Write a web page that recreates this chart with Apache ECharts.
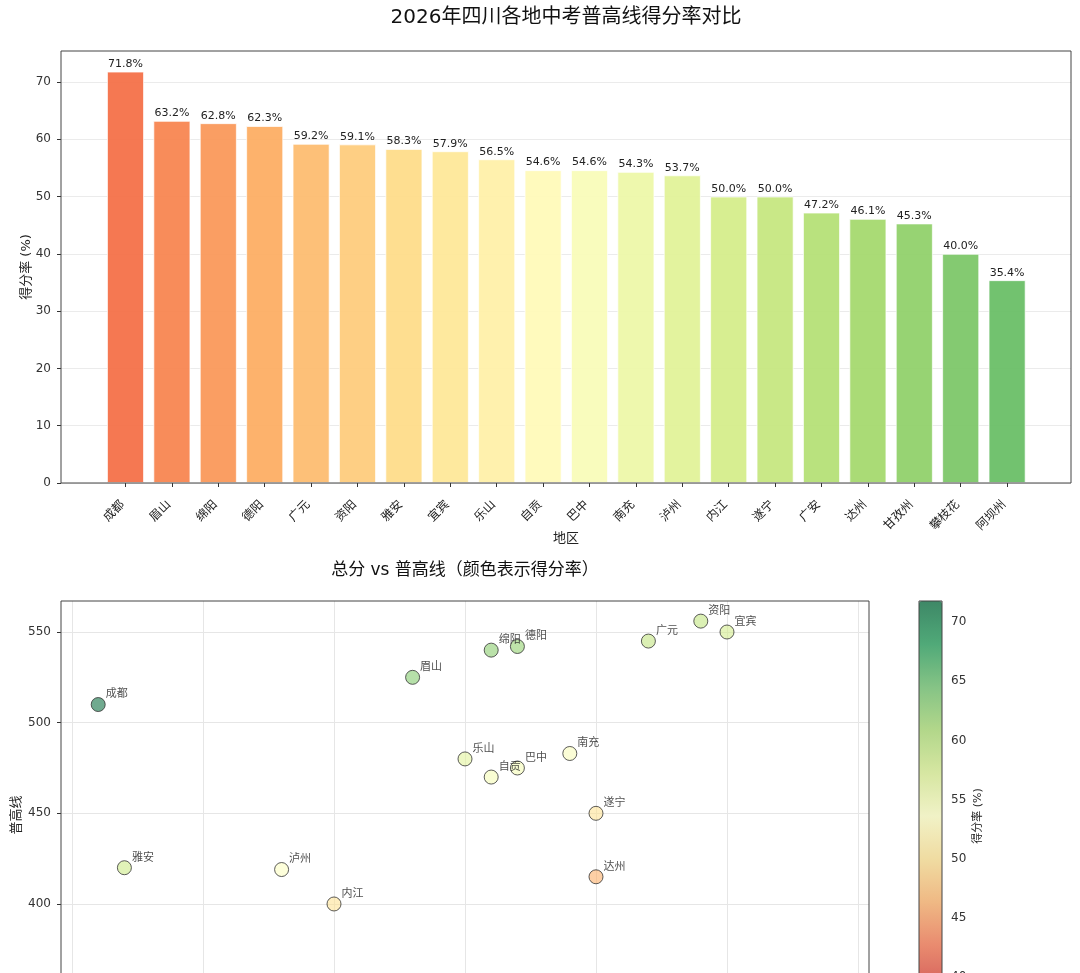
<!DOCTYPE html>
<html><head><meta charset="utf-8">
<script src="https://cdn.jsdelivr.net/npm/echarts@6.0.0/dist/echarts.min.js"></script>
<style>html,body{margin:0;padding:0;background:#fff}#c{width:1080px;height:973px}</style>
</head><body><div id="c"></div><script>
// ---- data ----
const regions = ['成都','眉山','绵阳','德阳','广元','资阳','雅安','宜宾','乐山','自贡','巴中','南充','泸州','内江','遂宁','广安','达州','甘孜州','攀枝花','阿坝州'];
const rates = [71.8,63.2,62.8,62.3,59.2,59.1,58.3,57.9,56.5,54.6,54.6,54.3,53.7,50.0,50.0,47.2,46.1,45.3,40.0,35.4];
const scatterNames = ['成都','眉山','绵阳','德阳','广元','资阳','宜宾','乐山','自贡','巴中','南充','遂宁','达州','雅安','泸州','内江'];
const totalScores = [710,830,860,870,920,940,950,850,860,870,890,900,900,720,780,800];
const cutoffLines = [510,525,540,542,545,556,550,480,470,475,483,450,415,420,419,400];
const barTicks = [0,10,20,30,40,50,60,70];
const scatterYTicks = [350,400,450,500,550];
const scatterXTicks = [700,750,800,850,900,950,1000];
const colorbarTicks = [40,45,50,55,60,65,70];

// ---- colormap (RdYlGn) ----
const RdYlGn = ['#a50026','#d73027','#f46d43','#fdae61','#fee08b','#ffffbf','#d9ef8b','#a6d96a','#66bd63','#1a9850','#006837'];
function hex2rgb(h){return [parseInt(h.slice(1,3),16),parseInt(h.slice(3,5),16),parseInt(h.slice(5,7),16)];}
function cmap(t,a){
  const n = RdYlGn.length-1, p = t*n;
  const i = Math.min(Math.floor(p), n-1), f = p-i;
  const c0 = hex2rgb(RdYlGn[i]), c1 = hex2rgb(RdYlGn[i+1]);
  const c = c0.map((v,k)=>Math.round(v+(c1[k]-v)*f));
  return 'rgba('+c[0]+','+c[1]+','+c[2]+','+a+')';
}
const FONT = "'DejaVu Sans','Noto Sans CJK SC',sans-serif";
const rateMin = Math.min(...rates), rateMax = Math.max(...rates);

const chart = echarts.init(document.getElementById('c'), null, {renderer:'canvas'});
const tickStyle = {show:true, length:4, lineStyle:{color:'#333', width:1}};
const option = {
  animation:false,
  backgroundColor:'#fff',
  textStyle:{fontFamily:FONT},
  grid:[
    {left:61, top:51, width:1010, height:432, show:true, borderColor:'#444', borderWidth:1, backgroundColor:'transparent', z:10, outerBoundsMode:'none'},
    {left:102.3, top:51, width:928, height:432, show:false, outerBoundsMode:'none'},
    {left:61, top:601, width:808, height:429, show:true, borderColor:'#444', borderWidth:1, backgroundColor:'transparent', z:10, outerBoundsMode:'none'},
    {left:919, top:601, width:23, height:430, show:true, borderColor:'#444', borderWidth:1, backgroundColor:'transparent', z:10, outerBoundsMode:'none'}
  ],
  xAxis:[
    {gridIndex:0, type:'value', show:false, min:0, max:1},
    {gridIndex:1, type:'category', data:regions, axisLine:{show:false},
      axisTick:{show:true, alignWithLabel:true, length:4, lineStyle:{color:'#333'}},
      axisLabel:{rotate:45, interval:0, fontSize:12, color:'#222', margin:17, padding:[0,4,0,0], fontFamily:FONT},
      splitLine:{show:false}},
    {gridIndex:2, type:'value', min:695.8, max:1004.2, axisLine:{show:false},
      axisTick:Object.assign({customValues:scatterXTicks}, tickStyle),
      axisLabel:{customValues:scatterXTicks, fontSize:12, color:'#333'},
      splitLine:{show:true, lineStyle:{color:'#e6e6e6', width:1}}},
    {gridIndex:3, type:'value', show:false, min:0, max:1}
  ],
  yAxis:[
    {gridIndex:0, type:'value', min:0, max:75.39, interval:10, axisLine:{show:false},
      axisTick:Object.assign({customValues:barTicks}, tickStyle),
      axisLabel:{customValues:barTicks, fontSize:12, color:'#333', margin:10},
      splitLine:{show:true, lineStyle:{color:'#ebebeb', width:1}}},
    {gridIndex:1, type:'value', min:0, max:75.39, show:false},
    {gridIndex:2, type:'value', min:330.5, max:567.1, axisLine:{show:false},
      axisTick:Object.assign({customValues:scatterYTicks}, tickStyle),
      axisLabel:{customValues:scatterYTicks, fontSize:12, color:'#333', margin:10},
      splitLine:{show:true, lineStyle:{color:'#e6e6e6', width:1}}},
    {gridIndex:3, type:'value', min:rateMin, max:rateMax, position:'right', axisLine:{show:false},
      axisTick:Object.assign({customValues:colorbarTicks}, tickStyle),
      axisLabel:{customValues:colorbarTicks, fontSize:12, color:'#333', margin:9},
      splitLine:{show:false}}
  ],
  visualMap:{
    type:'continuous', seriesIndex:1, dimension:2, min:rateMin, max:rateMax,
    left:919, top:601, itemWidth:23, itemHeight:430, padding:0,
    calculable:false, hoverLink:false, text:null,
    inRange:{color:RdYlGn.map(h=>cmap(RdYlGn.indexOf(h)/(RdYlGn.length-1),0.7))}
  },
  graphic:[
    {type:'text', x:566, y:18, style:{text:'2026年四川各地中考普高线得分率对比', fontSize:20, fill:'#111', align:'center', verticalAlign:'middle', fontFamily:FONT}},
    {type:'text', x:566, y:539, style:{text:'地区', fontSize:13, fill:'#222', align:'center', verticalAlign:'middle', fontFamily:FONT}},
    {type:'text', x:27, y:267, rotation:Math.PI/2, style:{text:'得分率 (%)', fontSize:13, fill:'#222', align:'center', verticalAlign:'middle', fontFamily:FONT}},
    {type:'text', x:465, y:571, style:{text:'总分 vs 普高线（颜色表示得分率）', fontSize:17, fill:'#111', align:'center', verticalAlign:'middle', fontFamily:FONT}},
    {type:'text', x:17, y:815, rotation:Math.PI/2, style:{text:'普高线', fontSize:13, fill:'#222', align:'center', verticalAlign:'middle', fontFamily:FONT}},
    {type:'text', x:978, y:816, rotation:Math.PI/2, style:{text:'得分率 (%)', fontSize:11, fill:'#222', align:'center', verticalAlign:'middle', fontFamily:FONT}}
  ],
  series:[
    {type:'bar', xAxisIndex:1, yAxisIndex:1, barWidth:'80%',
      data:rates.map((v,i)=>({value:v, itemStyle:{color:cmap(0.2+0.6*i/(rates.length-1),0.92), borderColor:'rgba(255,255,255,0.7)', borderWidth:1}})),
      label:{show:true, position:'top', distance:2, fontSize:11, color:'#222', fontFamily:FONT,
        formatter:p=>p.value.toFixed(1)+'%'}},
    {type:'scatter', xAxisIndex:2, yAxisIndex:2, symbolSize:14,
      itemStyle:{borderColor:'#333', borderWidth:1},
      label:{show:true, formatter:'{b}', position:[15,3], align:'left', verticalAlign:'bottom', fontSize:11, color:'#222', fontFamily:FONT},
      data:scatterNames.map((n,i)=>({name:n, value:[totalScores[i], cutoffLines[i], rates[regions.indexOf(n)]]}))}
  ]
};
chart.setOption(option);
</script></body></html>
